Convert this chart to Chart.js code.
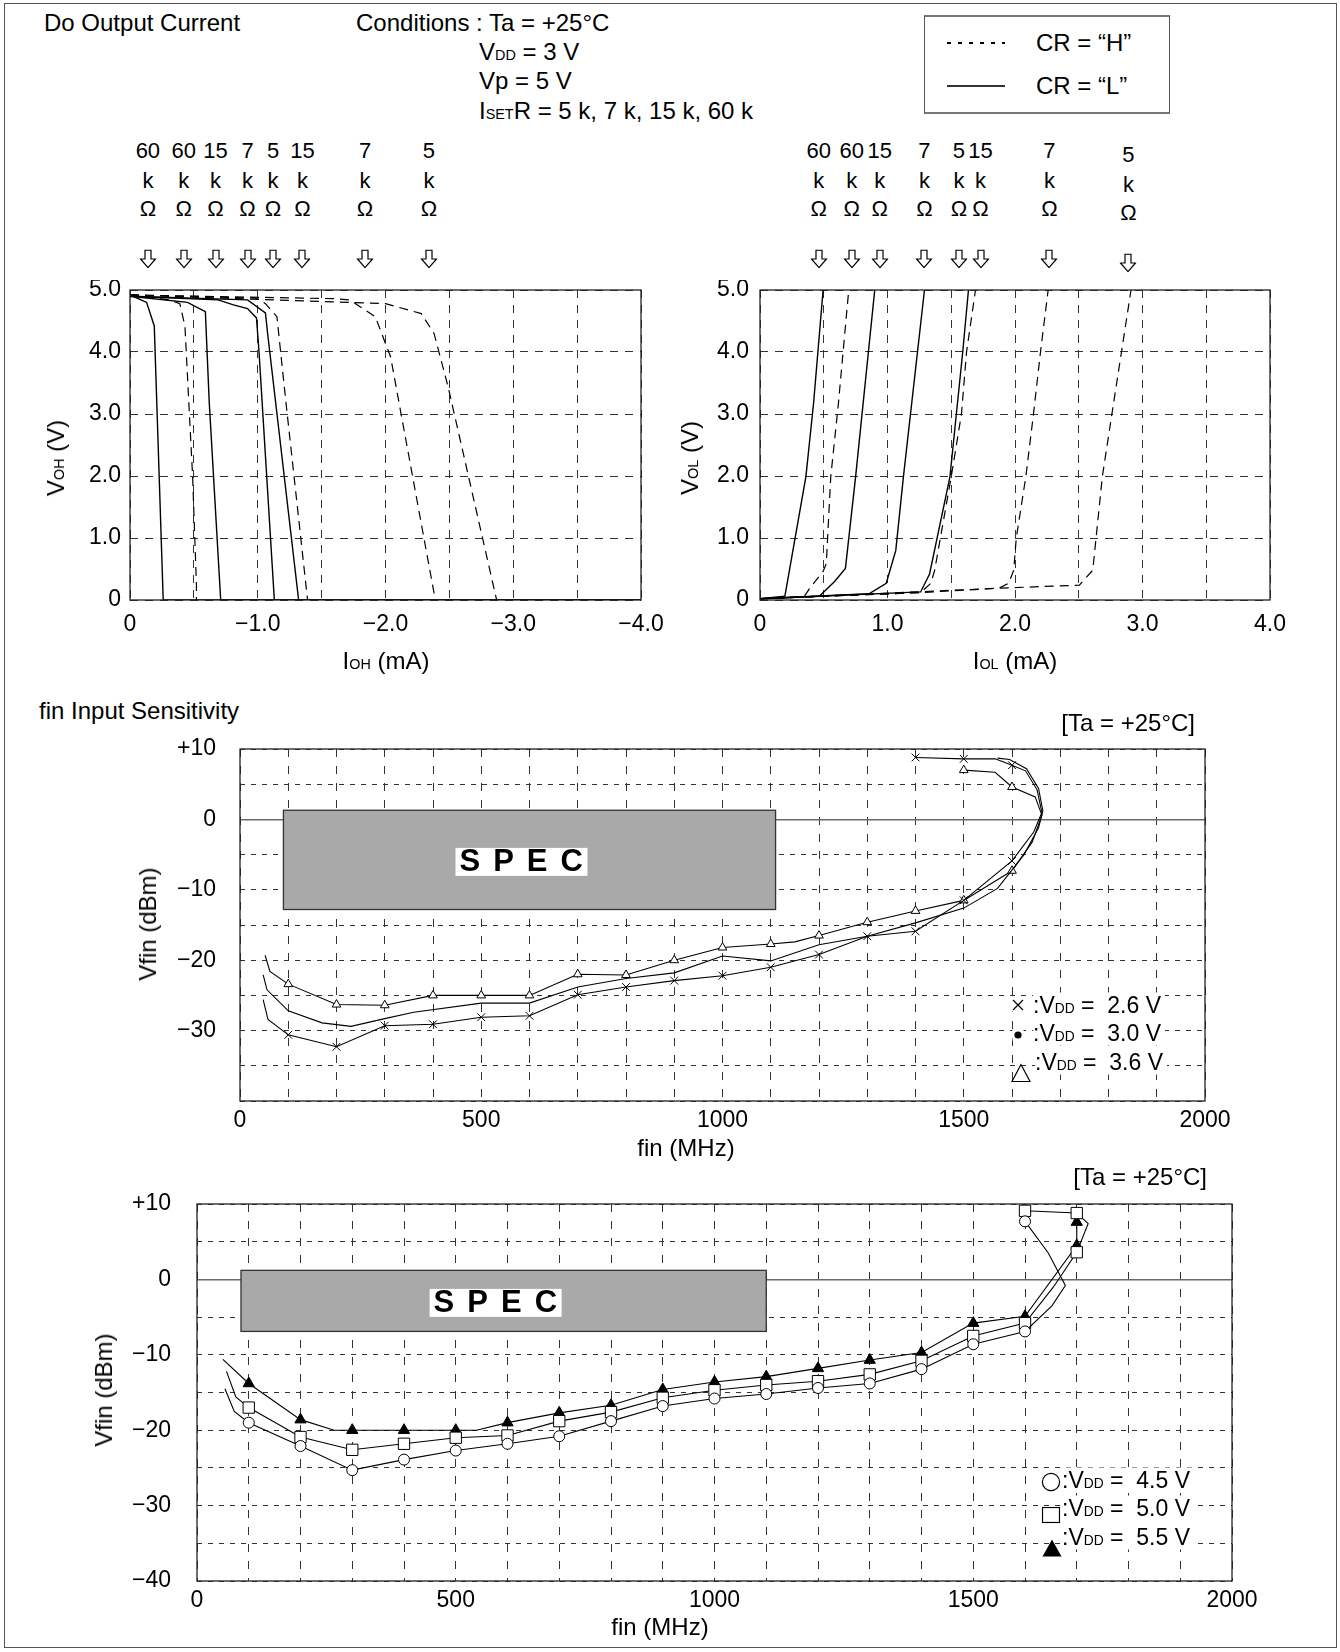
<!DOCTYPE html>
<html>
<head>
<meta charset="utf-8">
<title>Do Output Current / fin Input Sensitivity</title>
<script src="https://cdn.jsdelivr.net/npm/chart.js"></script>
<style>
body { margin: 0; background: #fff; }
#page { position: relative; width: 1340px; height: 1652px; overflow: hidden; background: #fff;
  font-family: "Liberation Sans", Arial, sans-serif; color: #000; }
#page canvas { position: absolute; }
.t { position: absolute; white-space: pre; font-size: 24px; line-height: 1; transform: translateY(-50%); }
.c { transform: translate(-50%, -50%); }
.r { transform: translate(-100%, -50%); }
.v { transform: translate(-50%, -50%) rotate(-90deg); }
.s { font-size: 0.6em; }
.lg { font-size: 23px; background: #fff; padding: 1px 4px 1px 0; }
.mk { position: absolute; transform: translate(-50%, -50%); }
</style>
</head>
<body>
<div id="page">
  <div style="position:absolute;left:4px;top:3px;width:1331px;height:1643px;border:1px solid #555;"></div>

  <div class="t" style="left:44px;top:23px">Do Output Current</div>
  <div class="t" style="left:356px;top:23px">Conditions : Ta = +25°C</div>
  <div class="t" style="left:479px;top:52px">V<span class="s">DD</span> = 3 V</div>
  <div class="t" style="left:479px;top:81px">Vp = 5 V</div>
  <div class="t" style="left:479px;top:111px">I<span class="s">SET</span>R = 5 k, 7 k, 15 k, 60 k</div>

  <div style="position:absolute;left:924px;top:15px;width:244px;height:95px;border:1px solid #555;border-top:2px solid #777;border-bottom:2px solid #777;"></div>
  <div style="position:absolute;left:947px;top:42px;width:58px;height:1.5px;background:repeating-linear-gradient(to right,#000 0 4px,transparent 4px 11px);"></div>
  <div class="t" style="left:1036px;top:43px">CR = “H”</div>
  <div style="position:absolute;left:947px;top:85px;width:58px;height:2px;background:#333;"></div>
  <div class="t" style="left:1036px;top:86px">CR = “L”</div>

  <div class="t c" style="left:386px;top:661px">I<span class="s">OH</span> (mA)</div>
  <div class="t c" style="left:1015px;top:661px">I<span class="s">OL</span> (mA)</div>
  <div class="t v" style="left:56px;top:458px">V<span class="s">OH</span> (V)</div>
  <div class="t v" style="left:690px;top:458px">V<span class="s">OL</span> (V)</div>

  <div class="t" style="left:39px;top:711px">fin Input Sensitivity</div>
  <div class="t r" style="left:1195px;top:723px">[Ta = +25°C]</div>
  <div class="t v" style="left:148px;top:924px">Vfin (dBm)</div>
  <div class="t c" style="left:686px;top:1148px">fin (MHz)</div>

  <div class="t r" style="left:1207px;top:1177px">[Ta = +25°C]</div>
  <div class="t v" style="left:104px;top:1390px">Vfin (dBm)</div>
  <div class="t c" style="left:660px;top:1627px">fin (MHz)</div>

  <!-- legend, 2.6 / 3.0 / 3.6 V -->
  <div class="t lg" style="left:1033px;top:1005px">:V<span class="s">DD</span> =  2.6 V</div>
  <div class="t lg" style="left:1033px;top:1033px">:V<span class="s">DD</span> =  3.0 V</div>
  <div class="t lg" style="left:1035px;top:1062px">:V<span class="s">DD</span> =  3.6 V</div>
  <svg class="mk" style="left:1018px;top:1005px;background:#fff" width="13" height="13"><path d="M1.5 1.5L11.5 11.5M11.5 1.5L1.5 11.5" stroke="#000" stroke-width="1.2"/></svg>
  <svg class="mk" style="left:1018px;top:1035px;background:#fff" width="11" height="11"><circle cx="5.5" cy="5.5" r="3.6" fill="#000"/></svg>
  <svg class="mk" style="left:1021px;top:1073px" width="20" height="19"><path d="M10 1L19 18H1Z" fill="#fff" stroke="#000" stroke-width="1.2"/></svg>

  <!-- legend, 4.5 / 5.0 / 5.5 V -->
  <div class="t lg" style="left:1062px;top:1480px">:V<span class="s">DD</span> =  4.5 V</div>
  <div class="t lg" style="left:1062px;top:1508px">:V<span class="s">DD</span> =  5.0 V</div>
  <div class="t lg" style="left:1062px;top:1537px">:V<span class="s">DD</span> =  5.5 V</div>
  <svg class="mk" style="left:1051px;top:1482px" width="20" height="20"><circle cx="10" cy="10" r="8.6" fill="#fff" stroke="#000" stroke-width="1.2"/></svg>
  <svg class="mk" style="left:1051px;top:1515px" width="19" height="17"><rect x="1" y="1" width="17" height="15" fill="#fff" stroke="#000" stroke-width="1.2"/></svg>
  <svg class="mk" style="left:1052px;top:1548px" width="21" height="19"><path d="M10.5 1L20 18H1Z" fill="#000"/></svg>
</div>

<script>
// ---------- Do output current, high side : I_OH (mA), V_OH (V)
// solid = CR "L", dashed = CR "H"
const ohSolid60 = [[0, 4.92], [-0.13, 4.8], [-0.19, 4.42], [-0.26, 0], [-4, 0]];
const ohSolid15 = [[0, 4.9], [-0.45, 4.8], [-0.59, 4.65], [-0.62, 3.2], [-0.71, 0], [-4, 0]];
const ohSolid7 = [[0, 4.9], [-0.69, 4.84], [-0.81, 4.76], [-0.92, 4.7], [-0.99, 4.55], [-1.01, 4.0], [-1.13, 0], [-4, 0]];
const ohSolid5 = [[0, 4.9], [-0.92, 4.84], [-1.06, 4.63], [-1.08, 4.25], [-1.32, 0], [-4, 0]];
const ohDash60 = [[0, 4.92], [-0.31, 4.84], [-0.39, 4.78], [-0.43, 4.42], [-0.46, 3.2], [-0.49, 2.0], [-0.52, 0.25], [-0.52, 0]];
const ohDash15 = [[0, 4.92], [-0.99, 4.87], [-1.06, 4.78], [-1.15, 4.57], [-1.22, 3.2], [-1.39, 0]];
const ohDash7 = [[0, 4.92], [-1.6, 4.86], [-1.72, 4.84], [-1.92, 4.57], [-2.04, 3.92], [-2.39, 0]];
const ohDash5 = [[0, 4.92], [-2.0, 4.78], [-2.28, 4.62], [-2.38, 4.3], [-2.49, 3.44], [-2.87, 0]];
const ohMarkI = [-0.14, -0.42, -0.67, -0.92, -1.12, -1.35, -1.84, -2.34];
const ohMarkR = ['60', '60', '15', '7', '5', '15', '7', '5'];

// ---------- low side : I_OL (mA), V_OL (V)
const olSolid60 = [[0, 0.02], [0.195, 0.06], [0.36, 1.99], [0.42, 3.17], [0.495, 5]];
const olSolid15 = [[0, 0.02], [0.465, 0.06], [0.585, 0.3], [0.67, 0.51], [0.75, 1.99], [0.9, 5]];
const olSolid7 = [[0, 0.02], [0.855, 0.1], [0.99, 0.27], [1.065, 0.8], [1.125, 1.99], [1.29, 5]];
const olSolid5 = [[0, 0.02], [1.26, 0.13], [1.33, 0.42], [1.49, 1.99], [1.54, 3.0], [1.59, 4.0], [1.635, 5]];
const olDash60 = [[0, 0.02], [0.345, 0.05], [0.39, 0.19], [0.495, 0.46], [0.52, 0.59], [0.555, 1.99], [0.615, 3.17], [0.696, 5]];
const olDash15 = [[0, 0.02], [1.26, 0.12], [1.34, 0.27], [1.37, 0.48], [1.5, 1.99], [1.58, 3.0], [1.62, 4.0], [1.69, 5]];
const olDash7 = [[0, 0.02], [1.26, 0.12], [1.875, 0.19], [1.95, 0.27], [1.99, 0.48], [2.01, 1.0], [2.085, 1.99], [2.145, 3.0], [2.2, 4.0], [2.26, 5]];
const olDash5 = [[0, 0.02], [1.875, 0.19], [2.505, 0.24], [2.61, 0.48], [2.685, 1.99], [2.76, 3.0], [2.835, 4.0], [2.91, 5]];
const olMarkI = [0.46, 0.72, 0.94, 1.29, 1.56, 1.73, 2.27, 2.89];
const olMarkR = ['60', '60', '15', '7', '5', '15', '7', '5'];

// ---------- fin input sensitivity, VDD 2.6 / 3.0 / 3.6 V : fin (MHz), Vfin (dBm)
// marks are drawn on the 100 MHz points only
const vdd26 = [[48, -25.6], [58, -28.4], [100, -30.6], [200, -32.3], [300, -29.3], [400, -29.1], [500, -28.1], [600, -27.9],
  [700, -24.9], [800, -23.8], [900, -22.9], [1000, -22.2], [1100, -21.0], [1200, -19.2], [1300, -16.6], [1400, -15.9],
  [1500, -11.5], [1600, -5.9], [1645, -1.8], [1662, 1.0], [1652, 4.2], [1628, 6.9], [1600, 7.7], [1565, 8.6], [1500, 8.6], [1400, 8.8]];
const vdd30 = [[48, -22.1], [56, -24.2], [100, -27.2], [170, -28.9], [230, -29.4], [300, -28.3], [360, -27.4], [500, -26.1],
  [600, -26.1], [700, -23.8], [800, -22.6], [900, -21.8], [1000, -19.4], [1100, -20.1], [1200, -17.8], [1300, -16.6],
  [1400, -14.7], [1500, -12.6], [1570, -9.8], [1625, -5.0], [1655, -1.2], [1664, 1.2], [1655, 4.4], [1630, 7.2], [1595, 8.5], [1570, 8.7]];
const vdd36 = [[52, -19.3], [62, -21.6], [100, -23.4], [200, -26.3], [300, -26.4], [400, -25.0], [500, -25.0], [600, -25.0],
  [700, -22.0], [800, -22.1], [900, -20.0], [1000, -18.2], [1100, -17.7], [1150, -17.4], [1200, -16.5], [1300, -14.6],
  [1400, -13.0], [1500, -11.5], [1600, -7.3], [1642, -3.2], [1662, 0.6], [1648, 3.2], [1600, 4.6], [1565, 6.7], [1500, 7.0]];
const specMidX = [90, 1110];
const specMidY = [-12.8, 1.3];

// ---------- VDD 4.5 / 5.0 / 5.5 V
const vdd45 = [[54, -14.5], [72, -17.5], [100, -19.0], [200, -22.1], [300, -25.3], [400, -23.9], [500, -22.7], [600, -21.8],
  [700, -20.8], [800, -18.8], [900, -16.8], [1000, -15.8], [1100, -15.2], [1200, -14.4], [1300, -13.8], [1400, -11.9],
  [1500, -8.6], [1600, -6.9], [1652, -3.5], [1678, -0.8], [1645, 3.5], [1600, 7.7]];
const vdd50 = [[57, -12.2], [75, -15.6], [100, -17.0], [200, -20.9], [300, -22.6], [400, -21.8], [500, -21.0], [600, -20.7],
  [700, -18.8], [800, -17.6], [900, -15.7], [1000, -14.7], [1100, -14.0], [1200, -13.5], [1300, -12.6], [1400, -10.8],
  [1500, -7.5], [1600, -5.8], [1655, -1.0], [1700, 3.6], [1722, 7.4], [1700, 8.8], [1600, 9.1]];
const vdd55 = [[50, -10.6], [100, -13.8], [200, -18.6], [265, -20.0], [300, -20.0], [400, -20.0], [500, -20.0], [540, -20.0],
  [600, -19.0], [700, -17.7], [800, -16.7], [900, -14.6], [1000, -13.6], [1100, -12.9], [1200, -11.8], [1300, -10.7],
  [1400, -9.7], [1500, -5.8], [1600, -4.9], [1700, 4.5], [1700, 7.6]];
const specLowX = [85, 1100];
const specLowY = [-6.9, 1.2];

const page = document.getElementById('page');
const tickFont = { family: 'Liberation Sans', size: 23 };
const minus = '\u2212';

const fmtOne = v => !Number.isInteger(v) ? '' : v === 0 ? '0' : (v < 0 ? minus : '') + Math.abs(v).toFixed(1);
const fmtDb = keepLast => v => {
  if (v % 10 !== 0) return '';
  if (v === -40 && !keepLast) return '';
  return v > 0 ? '+' + v : v < 0 ? minus + (-v) : '0';
};
const fmtMhz = v => v % 500 === 0 ? String(v) : '';

const curve = (pts, dashed) => ({
  data: pts.map(p => ({ x: p[0], y: p[1] })),
  showLine: true,
  borderColor: '#000',
  borderWidth: dashed ? 1.2 : 1.4,
  borderDash: dashed ? [9, 6] : [],
  pointRadius: 0,
  tension: 0
});

const series = (pts, style, radius, filled) => ({
  data: pts.map(p => ({ x: p[0], y: p[1] })),
  showLine: true,
  borderColor: '#000',
  borderWidth: 1.1,
  tension: 0,
  pointStyle: style,
  pointRadius: ctx => (style && ctx.raw && ctx.raw.x % 100 === 0) ? radius : 0,
  pointBorderColor: '#000',
  pointBorderWidth: 1,
  pointBackgroundColor: filled ? '#000' : '#fff'
});

// frame round the plot area
const framePlugin = {
  id: 'frame',
  afterDatasetsDraw(chart) {
    const { ctx, chartArea: a } = chart;
    ctx.save();
    ctx.strokeStyle = '#222';
    ctx.lineWidth = 1.3;
    ctx.strokeRect(a.left, a.top, a.right - a.left, a.bottom - a.top);
    ctx.restore();
  }
};

// grey SPEC box with its white label
const specPlugin = (xr, yr) => ({
  id: 'spec',
  beforeDatasetsDraw(chart) {
    const { ctx, scales: { x, y } } = chart;
    const x0 = x.getPixelForValue(xr[0]), x1 = x.getPixelForValue(xr[1]);
    const y0 = y.getPixelForValue(yr[1]), y1 = y.getPixelForValue(yr[0]);
    ctx.save();
    ctx.fillStyle = '#a9a9a9';
    ctx.fillRect(x0, y0, x1 - x0, y1 - y0);
    ctx.strokeStyle = '#333';
    ctx.lineWidth = 1.3;
    ctx.strokeRect(x0, y0, x1 - x0, y1 - y0);
    const cx = (x0 + x1) / 2 - 8, cy = (y0 + y1) / 2 + 2;
    ctx.fillStyle = '#fff';
    ctx.fillRect(cx - 66, cy - 14, 132, 28);
    ctx.fillStyle = '#000';
    ctx.font = 'bold 31px "Liberation Sans"';
    ctx.textBaseline = 'middle';
    let px = cx - 62;
    for (const ch of 'SPEC') {
      ctx.fillText(ch, px, cy + 1);
      px += ctx.measureText(ch).width + 13;
    }
    ctx.restore();
  }
});

function makeChart(box, datasets, xs, ys, plugins) {
  const cv = document.createElement('canvas');
  const w = box.R - box.L + box.pl + box.pr;
  const h = box.B - box.T + box.pt + box.pb;
  const left = box.L - box.pl, top = box.T - box.pt;
  cv.width = w; cv.height = h;
  cv.style.left = left + 'px'; cv.style.top = top + 'px';
  cv.style.width = w + 'px'; cv.style.height = h + 'px';
  page.insertBefore(cv, page.children[1]);

  const axis = (o, isX) => ({
    type: 'linear',
    min: o.min, max: o.max, reverse: !!o.reverse,
    afterFit: s => {
      if (isX) { s.height = box.pb; s.paddingLeft = 0; s.paddingRight = 0; }
      else { s.width = box.pl; s.paddingTop = 0; s.paddingBottom = 0; }
    },
    ticks: { stepSize: o.step, autoSkip: false, maxRotation: 0, minRotation: 0,
      padding: o.pad, color: '#000', font: tickFont, callback: o.label },
    grid: {
      drawTicks: false,
      color: c => (o.zeroLine && c.tick && c.tick.value === 0) ? '#6a6a6a' : '#333',
      lineWidth: c => (o.zeroLine && c.tick && c.tick.value === 0) ? 1.6 : 1
    },
    border: { display: false, dash: c => (o.zeroLine && c.tick && c.tick.value === 0) ? [] : o.dash }
  });

  const chart = new Chart(cv, {
    type: 'scatter',
    data: { datasets },
    options: {
      responsive: false,
      animation: false,
      devicePixelRatio: 1,
      events: [],
      layout: { padding: { left: 0, top: box.pt, right: box.pr, bottom: 0 } },
      plugins: { legend: { display: false }, tooltip: { enabled: false } },
      scales: { x: axis(xs, true), y: axis(ys, false) }
    },
    plugins: [framePlugin].concat(plugins || [])
  });
  return { chart, left, top };
}

const arrowSvg = '<svg width="17" height="19"><path d="M5.5 0.6H11.5V9.5H16L8.5 18.2L1 9.5H5.5Z" fill="#fff" stroke="#000" stroke-width="1.2"/></svg>';

// resistor labels and arrows above a plot; the last column sits a little lower on the right plot
function markResistors(made, vals, names, lastDrop) {
  vals.forEach((v, i) => {
    const px = made.left + made.chart.scales.x.getPixelForValue(v);
    const dy = i === vals.length - 1 ? lastDrop : 0;
    [[151, names[i]], [181, 'k'], [209, 'Ω']].forEach(([y, s]) => {
      const d = document.createElement('div');
      d.className = 't c';
      d.style.cssText = `left:${px}px;top:${y + dy}px;font-size:22px`;
      d.textContent = s;
      page.appendChild(d);
    });
    const a = document.createElement('div');
    a.className = 'mk';
    a.style.cssText = `left:${px}px;top:${259 + dy}px;height:19px`;
    a.innerHTML = arrowSvg;
    page.appendChild(a);
  });
}

// ---- top left : V_OH vs I_OH
const ohChart = makeChart(
  { L: 130, T: 290, R: 641, B: 600, pl: 70, pr: 35, pt: 10, pb: 50 },
  [curve(ohSolid60), curve(ohSolid15), curve(ohSolid7), curve(ohSolid5),
   curve(ohDash60, true), curve(ohDash15, true), curve(ohDash7, true), curve(ohDash5, true)],
  { min: -4, max: 0, reverse: true, step: 0.5, pad: 11, label: fmtOne, dash: [8, 7] },
  { min: 0, max: 5, step: 1, pad: 9, label: fmtOne, dash: [8, 7] }
);
markResistors(ohChart, ohMarkI, ohMarkR, 0);

// ---- top right : V_OL vs I_OL
const olChart = makeChart(
  { L: 760, T: 290, R: 1270, B: 600, pl: 70, pr: 40, pt: 10, pb: 50 },
  [curve(olSolid60), curve(olSolid15), curve(olSolid7), curve(olSolid5),
   curve(olDash60, true), curve(olDash15, true), curve(olDash7, true), curve(olDash5, true)],
  { min: 0, max: 4, step: 0.5, pad: 11, label: fmtOne, dash: [8, 7] },
  { min: 0, max: 5, step: 1, pad: 11, label: fmtOne, dash: [8, 7] }
);
markResistors(olChart, olMarkI, olMarkR, 4);

// ---- middle : VDD 2.6 / 3.0 / 3.6 V
makeChart(
  { L: 240, T: 749, R: 1205, B: 1101, pl: 90, pr: 30, pt: 20, pb: 45 },
  [series(vdd26, 'crossRot', 5.5, false), series(vdd30, false, 0, false), series(vdd36, 'triangle', 5, false)],
  { min: 0, max: 2000, step: 100, pad: 6, label: fmtMhz, dash: [8, 9] },
  { min: -40, max: 10, step: 5, pad: 24, label: fmtDb(false), dash: [5, 6], zeroLine: true },
  [specPlugin(specMidX, specMidY)]
);

// ---- bottom : VDD 4.5 / 5.0 / 5.5 V
makeChart(
  { L: 197, T: 1204, R: 1232, B: 1581, pl: 90, pr: 30, pt: 20, pb: 45 },
  [series(vdd45, 'circle', 5.5, false), series(vdd50, 'rect', 8, false), series(vdd55, 'triangle', 6.5, true)],
  { min: 0, max: 2000, step: 100, pad: 6, label: fmtMhz, dash: [8, 9] },
  { min: -40, max: 10, step: 5, pad: 26, label: fmtDb(true), dash: [5, 6], zeroLine: true },
  [specPlugin(specLowX, specLowY)]
);
</script>
</body>
</html>
